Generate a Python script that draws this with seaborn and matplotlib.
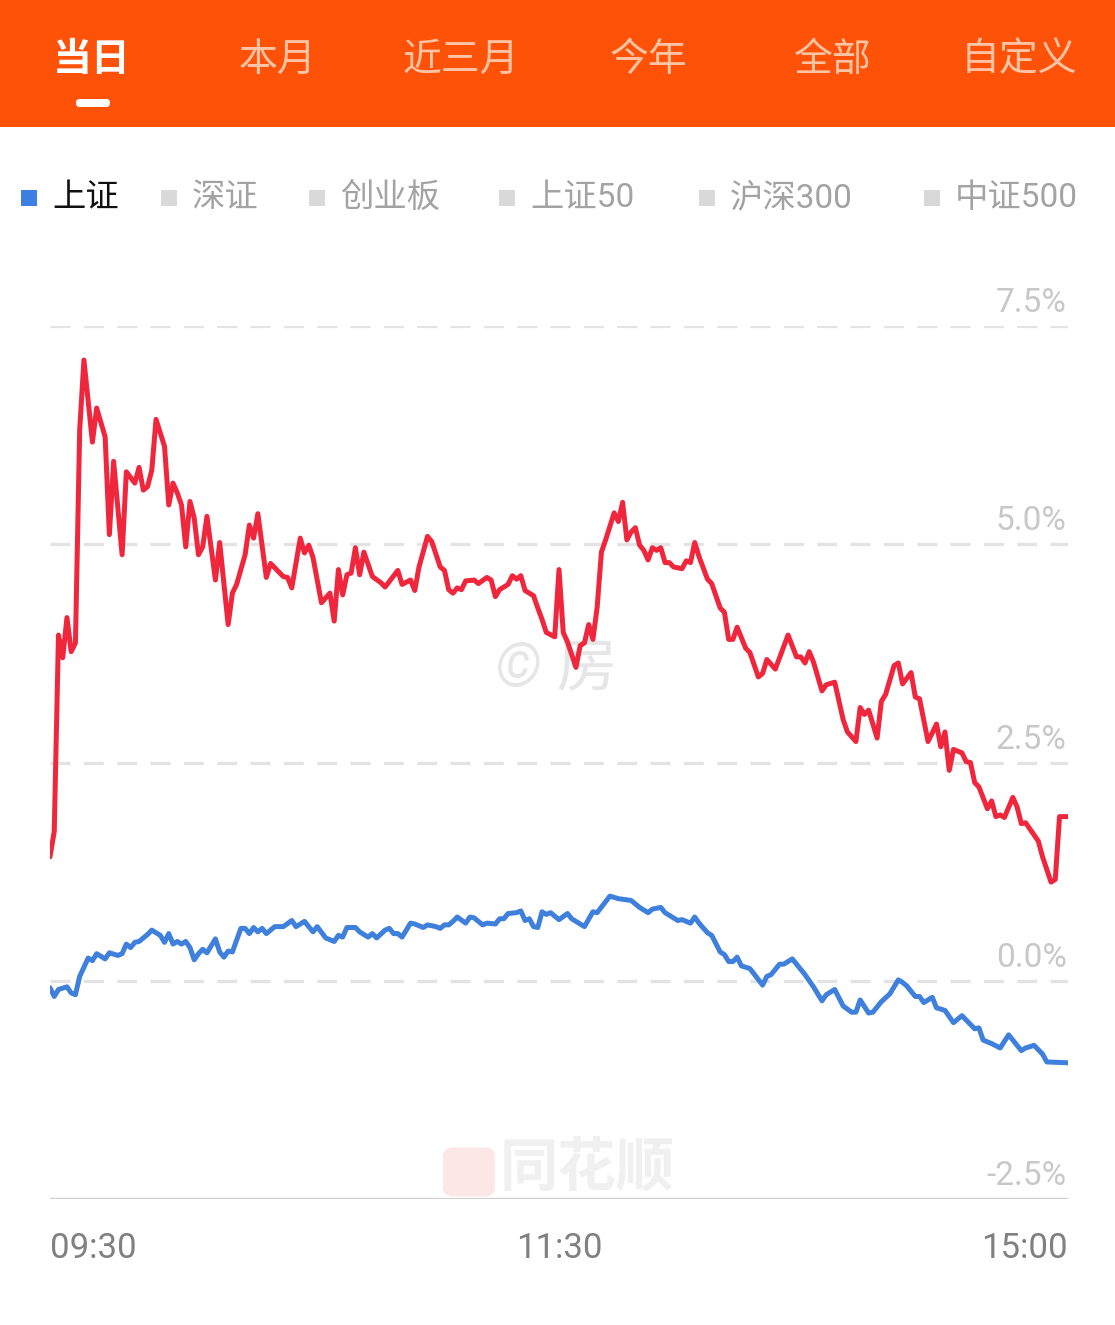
import matplotlib
matplotlib.use('Agg')
import matplotlib.pyplot as plt
import numpy as np
import pandas as pd
import seaborn as sns
from matplotlib.patches import Rectangle, FancyBboxPatch

# ---- data (minutes after 09:30, % change) ----
red_min = [0, 1, 2, 3, 4, 5, 6, 7, 8, 10, 11, 13, 14, 15, 17, 18, 20, 21, 22, 23,
           24, 25, 27, 28, 29, 30, 31, 32, 33, 34, 35, 36, 37, 39, 40, 42, 43, 44,
           45, 46, 47, 48, 49, 51, 52, 53, 55, 56, 57, 59, 60, 61, 62, 64, 66, 67,
           68, 69, 70, 71, 72, 73, 74, 76, 78, 79, 82, 83, 85, 86, 87, 89, 90, 92,
           93, 94, 95, 96, 97, 98, 100, 101, 103, 104, 105, 106, 108, 109, 110, 111,
           112, 114, 115, 116, 117, 119, 120, 121, 122, 124, 125, 126, 127, 128, 129,
           130, 131, 133, 134, 135, 136, 137, 138, 139, 140, 141, 142, 143, 144, 145,
           146, 147, 149, 150, 151, 152, 153, 155, 156, 158, 159, 160, 161, 162, 164,
           165, 167, 168, 169, 171, 174, 176, 177, 178, 179, 180, 182, 183, 185, 187,
           188, 190, 191, 192, 193, 195, 196, 197, 199, 200, 201, 203, 204, 205, 207,
           209, 210, 211, 212, 213, 215, 216, 217, 218, 219, 221, 222, 223, 224, 225,
           227, 228, 229, 230, 231, 232, 233, 234, 236, 237, 238, 240]
red_pct = [1.42, 1.71, 3.96, 3.70, 4.16, 3.77, 3.87, 6.31, 7.11, 6.17, 6.56, 6.23, 5.11,
           5.95, 4.88, 5.83, 5.70, 5.88, 5.62, 5.66, 5.85, 6.43, 6.12, 5.45, 5.70, 5.59,
           5.45, 4.97, 5.49, 5.30, 4.88, 4.97, 5.32, 4.59, 5.02, 4.08, 4.44, 4.54, 4.71,
           4.88, 5.22, 5.07, 5.35, 4.62, 4.78, 4.73, 4.63, 4.62, 4.50, 5.07, 4.90, 4.99,
           4.85, 4.33, 4.44, 4.12, 4.71, 4.42, 4.65, 4.67, 4.96, 4.65, 4.91, 4.63, 4.56,
           4.51, 4.70, 4.54, 4.59, 4.47, 4.74, 5.09, 5.03, 4.74, 4.70, 4.48, 4.44, 4.50,
           4.48, 4.58, 4.59, 4.55, 4.62, 4.59, 4.40, 4.48, 4.54, 4.64, 4.60, 4.64, 4.47,
           4.41, 4.27, 4.14, 3.99, 3.94, 4.71, 3.99, 3.88, 3.59, 3.84, 3.87, 4.08, 3.91,
           4.28, 4.91, 5.05, 5.36, 5.26, 5.48, 5.05, 5.14, 5.19, 4.99, 4.93, 4.82, 4.96,
           4.93, 4.96, 4.79, 4.79, 4.74, 4.72, 4.81, 4.79, 5.02, 4.86, 4.60, 4.55, 4.27,
           4.22, 3.91, 3.91, 4.05, 3.81, 3.76, 3.48, 3.52, 3.68, 3.57, 3.96, 3.71, 3.71,
           3.64, 3.77, 3.65, 3.32, 3.39, 3.42, 2.99, 2.85, 2.74, 3.13, 3.05, 3.10, 2.78,
           3.20, 3.28, 3.61, 3.64, 3.40, 3.53, 3.25, 3.23, 2.74, 2.94, 2.68, 2.85, 2.41,
           2.65, 2.61, 2.51, 2.50, 2.27, 2.22, 1.97, 2.06, 1.88, 1.90, 1.87, 2.10, 1.99,
           1.80, 1.81, 1.74, 1.67, 1.60, 1.42, 1.13, 1.16, 1.88, 1.88]

blue_min = [0, 1, 2, 4, 5, 6, 7, 9, 10, 11, 13, 14, 16, 17, 18, 19, 20, 21, 23, 24,
            26, 27, 28, 29, 30, 31, 32, 33, 34, 35, 36, 37, 39, 40, 41, 42, 43, 45,
            46, 47, 48, 49, 50, 51, 53, 55, 57, 58, 60, 62, 63, 65, 67, 68, 69, 70,
            72, 73, 75, 76, 77, 79, 80, 81, 82, 83, 85, 86, 88, 89, 91, 92, 93, 94,
            95, 96, 98, 99, 100, 102, 103, 105, 106, 107, 108, 110, 111, 112, 113, 114,
            115, 116, 117, 118, 120, 122, 123, 126, 128, 129, 132, 134, 137, 139, 141,
            142, 144, 145, 148, 149, 151, 152, 153, 155, 156, 158, 159, 160, 161, 162,
            163, 165, 168, 169, 170, 172, 173, 175, 177, 178, 180, 182, 183, 185, 187,
            189, 190, 191, 193, 194, 196, 198, 200, 201, 202, 204, 205, 206, 208, 209,
            211, 213, 215, 218, 219, 220, 222, 224, 226, 229, 230, 232, 234, 235, 240]
blue_pct = [-0.08, -0.18, -0.10, -0.07, -0.14, -0.16, 0.05, 0.26, 0.23, 0.31, 0.25, 0.32,
            0.29, 0.31, 0.42, 0.38, 0.44, 0.45, 0.53, 0.58, 0.52, 0.44, 0.54, 0.42, 0.45,
            0.42, 0.45, 0.38, 0.24, 0.31, 0.36, 0.32, 0.48, 0.33, 0.27, 0.34, 0.33, 0.60,
            0.60, 0.54, 0.61, 0.56, 0.60, 0.54, 0.62, 0.62, 0.69, 0.62, 0.68, 0.56, 0.62,
            0.49, 0.45, 0.52, 0.50, 0.61, 0.61, 0.56, 0.50, 0.54, 0.49, 0.58, 0.60, 0.54,
            0.54, 0.50, 0.66, 0.65, 0.61, 0.64, 0.62, 0.60, 0.64, 0.64, 0.68, 0.73, 0.66,
            0.73, 0.72, 0.64, 0.66, 0.65, 0.71, 0.71, 0.77, 0.78, 0.80, 0.69, 0.71, 0.62,
            0.61, 0.79, 0.76, 0.78, 0.70, 0.77, 0.71, 0.62, 0.79, 0.78, 0.97, 0.94, 0.92,
            0.84, 0.78, 0.82, 0.84, 0.78, 0.69, 0.70, 0.66, 0.73, 0.66, 0.55, 0.52, 0.33,
            0.30, 0.22, 0.22, 0.27, 0.17, 0.14, -0.05, 0.05, 0.07, 0.19, 0.19, 0.25, 0.13,
            0.07, -0.07, -0.23, -0.16, -0.10, -0.29, -0.36, -0.36, -0.22, -0.37, -0.36,
            -0.24, -0.15, 0.01, -0.02, -0.06, -0.18, -0.18, -0.25, -0.19, -0.31, -0.34,
            -0.48, -0.40, -0.55, -0.54, -0.68, -0.72, -0.77, -0.62, -0.80, -0.77, -0.74,
            -0.84, -0.93, -0.94]

tabs = ['当日', '本月', '近三月', '今年', '全部', '自定义']
legend_names = ['上证', '深证', '创业板', '上证50', '沪深300', '中证500']
y_ticks = [7.5, 5.0, 2.5, 0.0, -2.5]
x_ticks = [0, 120, 240]
x_tick_labels = ['09:30', '11:30', '15:00']

W, H = 1115, 1325


def fx(x):
    return x / W


def fy(y):
    return 1 - y / H


sns.set_style('white')
plt.rcParams['font.family'] = ['Roboto', 'Noto Sans CJK SC', 'DejaVu Sans']

fig = plt.figure(figsize=(W / 100, H / 100), dpi=100)
fig.patch.set_facecolor('white')

# header bar
fig.patches.append(Rectangle((0, fy(127)), 1, 127 / H, transform=fig.transFigure,
                             facecolor='#FF5209', edgecolor='none', zorder=0))
tab_x = [92, 277, 461, 649, 833, 1019]
for i, (name, x) in enumerate(zip(tabs, tab_x)):
    fig.text(fx(x), fy(60), name, ha='center', va='center', fontsize=28,
             color='white' if i == 0 else '#FFC4A3',
             fontweight='bold' if i == 0 else 'normal')
fig.patches.append(FancyBboxPatch((fx(76), fy(107)), fx(34), 8 / H,
                                  boxstyle='round,pad=0,rounding_size=0.003',
                                  transform=fig.transFigure, facecolor='white',
                                  edgecolor='none'))

# legend row
leg_sq = [21, 161, 309, 499, 699, 924]
leg_tx = [52, 192, 340, 530, 730, 955]
for i, (name, sx, tx) in enumerate(zip(legend_names, leg_sq, leg_tx)):
    fig.patches.append(Rectangle((fx(sx), fy(206)), 16 / W, 16 / H,
                                 transform=fig.transFigure,
                                 facecolor='#3D7FE3' if i == 0 else '#D9D9D9',
                                 edgecolor='none'))
    fig.text(fx(tx), fy(198), name, ha='left', va='center', fontsize=24,
             color='#111111' if i == 0 else '#A3A3A3')

# chart
ax = fig.add_axes([fx(50), fy(1199), (1068 - 50) / W, (1199 - 326) / H])
red_df = pd.DataFrame({'minute': red_min, 'pct': red_pct})
blue_df = pd.DataFrame({'minute': blue_min, 'pct': blue_pct})

for v in y_ticks[:-1]:
    ax.axhline(v, color='#E3E3E3', lw=2.4, ls=(0, (6, 4)), zorder=1)
ax.axhline(-2.5, color='#D0D0D0', lw=2.4, zorder=1)

# watermarks
ax.text(0.497, 0.608, '© 房', transform=ax.transAxes, ha='center', va='center',
        fontsize=44, color='#E6E6E6', style='italic', zorder=0)
ax.text(0.528, 0.033, '同花顺', transform=ax.transAxes, ha='center', va='center',
        fontsize=42, color='#F0F0F0', style='italic', fontweight='bold', zorder=0)
ax.add_patch(FancyBboxPatch((0.386, 0.003), 0.051, 0.056,
                            boxstyle='round,pad=0,rounding_size=0.01',
                            transform=ax.transAxes, facecolor='#FCE6E6',
                            edgecolor='none', zorder=0))

sns.lineplot(data=red_df, x='minute', y='pct', ax=ax, color='#F0263D', lw=3.6, zorder=3)
sns.lineplot(data=blue_df, x='minute', y='pct', ax=ax, color='#3F80DC', lw=3.6, zorder=3)

ax.set_xlim(0, 240)
ax.set_ylim(-2.5, 7.5)
ax.set_xlabel('')
ax.set_ylabel('')
ax.set_yticks([])
for s in ax.spines.values():
    s.set_visible(False)

for v in y_ticks:
    ax.annotate(f'{v:.1f}%', xy=(1.0, v), xycoords=ax.get_yaxis_transform(),
                xytext=(-1, 5), textcoords='offset points', ha='right',
                va='bottom', fontsize=24, color='#C8C8C8')

ax.set_xticks(x_ticks)
ax.set_xticklabels(x_tick_labels, fontsize=25, color='#808080')
for lbl, ha in zip(ax.get_xticklabels(), ['left', 'center', 'right']):
    lbl.set_ha(ha)
ax.tick_params(axis='x', length=0, pad=24)

fig.savefig('out.png', dpi=100, facecolor='white')
plt.close(fig)
